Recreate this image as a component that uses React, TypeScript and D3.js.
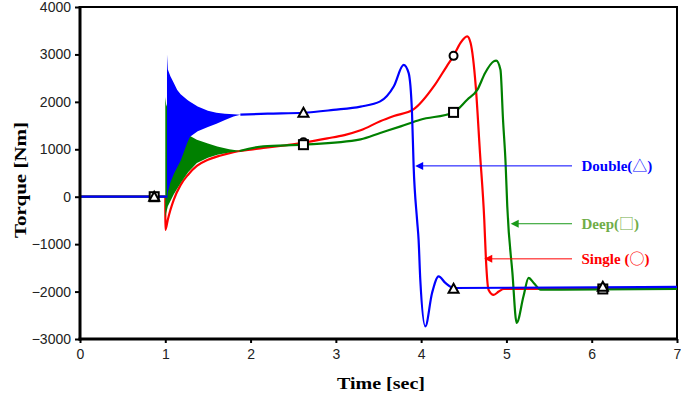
import React, { useEffect, useRef } from 'react'
import * as d3 from 'd3'

// tick values
const xTicks = [0, 1, 2, 3, 4, 5, 6, 7]
const yTicks = [-3000, -2000, -1000, 0, 1000, 2000, 3000, 4000]

// Double (blue)
const doublePreT = [0, 1.02]
const doublePreV = [0, 0]
const doubleBandT = [1.02, 1.03, 1.06, 1.1, 1.14, 1.18, 1.26, 1.29, 1.38, 1.5, 1.6, 1.7, 1.8, 1.88]
const doubleBandHi = [3000, 2680, 2540, 2400, 2250, 2160, 2040, 2000, 1900, 1810, 1770, 1750, 1740, 1730]
const doubleBandLo = [-100, 100, 300, 480, 620, 760, 1150, 1266, 1380, 1470, 1540, 1620, 1690, 1730]
const doubleT = [1.88, 2.2, 2.62, 2.97, 3.29, 3.52, 3.68, 3.795, 3.853, 3.893, 3.912, 3.952, 3.97, 3.99, 4.049, 4.128, 4.205, 4.284, 4.381, 7]
const doubleV = [1730, 1750, 1770, 1830, 1900, 2010, 2330, 2780, 2610, 1765, 640, -484, -904, -1750, -2733, -2030, -1680, -1818, -1925, -1900]

// Deep (green)
const deepPreT = [0, 1.0]
const deepPreV = [0, 0]
const deepBandT = [1.0, 1.01, 1.03, 1.1, 1.18, 1.27, 1.37, 1.5, 1.61, 1.75, 1.87]
const deepBandHi = [2100, 1950, 1850, 1650, 1480, 1300, 1200, 1120, 1060, 1000, 970]
const deepBandLo = [-450, -350, -200, 50, 290, 520, 712, 820, 887, 930, 956]
const deepT = [1.87, 2.15, 2.62, 3.29, 3.52, 3.76, 3.99, 4.38, 4.54, 4.66, 4.75, 4.85, 4.88, 4.93, 4.96, 4.99, 5.01, 5.07, 5.12, 5.2, 5.26, 5.32, 5.4, 7]
const deepV = [963, 1062, 1097, 1210, 1344, 1483, 1624, 1778, 2046, 2257, 2609, 2853, 2868, 2678, 1625, 711, -203, -1600, -2660, -2100, -1713, -1818, -1960, -1945]

// Single (red)
const singleT = [0, 1.0, 1.001, 1.03, 1.06, 1.1, 1.18, 1.27, 1.37, 1.5, 1.65, 1.8, 2.0, 2.15, 2.4, 2.62, 2.9, 3.1, 3.29, 3.52, 3.68, 3.91, 4.15, 4.3, 4.38, 4.46, 4.54, 4.58, 4.64, 4.69, 4.74, 4.76, 4.79, 4.85, 4.91, 4.97, 7]
const singleV = [0, 0, -700, -480, -280, -60, 250, 470, 650, 780, 870, 940, 990, 1030, 1080, 1140, 1230, 1300, 1400, 1590, 1700, 1840, 2330, 2750, 2970, 3240, 3380, 3240, 2330, 920, -480, -1330, -1960, -2070, -2000, -1945, -1940]

// markers
const markT = [0.87, 2.62, 4.38, 6.13]
const doubleMarks = [0, 1770, -1940, -1900]
const singleMarks = [0, 1150, 2970, -1940]
const deepMarks = [0, 1097, 1778, -1945]

// annotations
const labelNames = ['Double(', 'Deep(', 'Single (']
const labelSymbols = ['△', '□', '○']
const labelColors = ['#0000ff', '#70ad47', '#ff0000']
const arrowColors = ['#0000ff', '#1a9a1a', '#ff0000']
const arrowTipT = [3.93, 5.05, 4.74]
const arrowV = [650, -570, -1310]

const W = 681
const H = 398
const serif = '"Liberation Serif", "Times New Roman", serif'

export default function App() {
  const svgRef = useRef<SVGSVGElement>(null)

  useEffect(() => {
    if (!svgRef.current) return
    const svg = d3.select(svgRef.current)
    svg.selectAll('*').remove()

    const x = d3.scaleLinear().domain([0, 7]).range([80, 677])
    const y = d3.scaleLinear().domain([-3000, 4000]).range([339, 7])

    const zip = (t: number[], v: number[]) => t.map((d, i) => [d, v[i]] as [number, number])
    const line = d3.line<[number, number]>().x(d => x(d[0])).y(d => y(d[1])).curve(d3.curveMonotoneX)
    // closed outline: upper envelope forward, lower envelope back
    const band = (t: number[], hi: number[], lo: number[]) => {
      const pts = zip(t, hi).concat(zip(t, lo).reverse())
      return d3.line<[number, number]>().x(d => x(d[0])).y(d => y(d[1]))(pts) + 'Z'
    }

    const g = svg.append('g')

    // frame
    g.append('path')
      .attr('d', `M${x(0)},${y(4000)}H${x(7)}V${y(-3000)}`)
      .attr('fill', 'none').attr('stroke', '#000').attr('stroke-width', 2)

    const drawLine = (t: number[], v: number[], c: string) =>
      g.append('path').attr('d', line(zip(t, v))).attr('fill', 'none')
        .attr('stroke', c).attr('stroke-width', 2.2).attr('stroke-linejoin', 'round')
    const drawBand = (t: number[], hi: number[], lo: number[], c: string) =>
      g.append('path').attr('d', band(t, hi, lo)).attr('fill', c).attr('stroke', 'none')

    // series
    drawLine(singleT, singleV, '#ff0000')
    drawLine(deepPreT, deepPreV, '#008000')
    drawBand(deepBandT, deepBandHi, deepBandLo, '#008000')
    drawLine(deepT, deepV, '#008000')
    drawLine(doublePreT, doublePreV, '#0000ff')
    drawBand(doubleBandT, doubleBandHi, doubleBandLo, '#0000ff')
    drawLine(doubleT, doubleV, '#0000ff')

    // markers
    const mk = g.append('g').attr('fill', '#fff').attr('stroke', '#000').attr('stroke-width', 2)
    markT.forEach((t, i) => {
      mk.append('circle').attr('cx', x(t)).attr('cy', y(singleMarks[i])).attr('r', 4)
      mk.append('rect').attr('x', x(t) - 4.5).attr('y', y(deepMarks[i]) - 4.5).attr('width', 9).attr('height', 9)
      const cx = x(t), cy = y(doubleMarks[i])
      mk.append('path').attr('d', `M${cx},${cy - 5}L${cx + 5},${cy + 4}L${cx - 5},${cy + 4}Z`)
    })

    // axes
    const ax = d3.axisLeft(y).tickValues(yTicks).tickSize(5).tickSizeOuter(0).tickFormat(d3.format('d'))
    const ayG = g.append('g').attr('transform', `translate(${x(0)},0)`).call(ax)
    const bx = d3.axisBottom(x).tickValues(xTicks).tickSize(4).tickSizeOuter(0).tickFormat(d3.format('d'))
    const axG = g.append('g').attr('transform', `translate(0,${y(-3000)})`).call(bx)
    ;[ayG, axG].forEach(a => {
      a.select('.domain').attr('stroke', '#000').attr('stroke-width', 3)
      a.selectAll('.tick line').attr('stroke', '#000').attr('stroke-width', 2)
      a.selectAll('.tick text').attr('fill', '#222').attr('font-size', 14)
        .attr('font-family', '"Liberation Sans", Arial, sans-serif')
    })
    ayG.selectAll('.tick text').attr('x', -9)
    axG.selectAll('.tick text').attr('y', 10)
    ayG.select('.domain').attr('d', `M0,${y(4000) - 1}V${y(-3000) + 1.5}`)
    axG.select('.domain').attr('d', `M${x(0) - 1.5},0H${x(7) + 1}`)

    // annotations
    labelNames.forEach((lab, i) => {
      const ly = y(arrowV[i])
      const tip = x(arrowTipT[i])
      g.append('line').attr('x1', 572).attr('x2', tip + 6).attr('y1', ly).attr('y2', ly)
        .attr('stroke', arrowColors[i]).attr('stroke-width', 1)
      g.append('path').attr('d', `M${tip},${ly}L${tip + 8},${ly - 4}L${tip + 8},${ly + 4}Z`)
        .attr('fill', arrowColors[i])
      const txt = g.append('text').attr('x', 581.5).attr('y', ly + 5.5)
        .attr('fill', labelColors[i]).attr('font-size', 15).attr('font-weight', 'bold')
        .attr('font-family', serif)
      txt.append('tspan').text(lab)
      txt.append('tspan').text(labelSymbols[i]).attr('font-weight', 'normal')
        .attr('font-family', '"Noto Sans CJK JP", "Noto Sans CJK SC", sans-serif')
      txt.append('tspan').text(')')
    })

    // axis titles
    g.append('text').attr('x', 381).attr('y', 389).attr('text-anchor', 'middle').text('Time [sec]')
      .attr('font-size', 17).attr('font-weight', 'bold').attr('font-family', serif)
      .attr('textLength', 88).attr('lengthAdjust', 'spacingAndGlyphs')
    g.append('text').attr('transform', 'translate(26,180) rotate(-90)').attr('text-anchor', 'middle')
      .text('Torque [Nm]').attr('font-size', 17).attr('font-weight', 'bold').attr('font-family', serif)
      .attr('textLength', 116).attr('lengthAdjust', 'spacingAndGlyphs')
  }, [])

  return (
    <div style={{ width: W, height: H }}>
      <style>{'body{margin:0}'}</style>
      <svg ref={svgRef} width={W} height={H} style={{ display: 'block', background: '#fff' }} />
    </div>
  )
}
